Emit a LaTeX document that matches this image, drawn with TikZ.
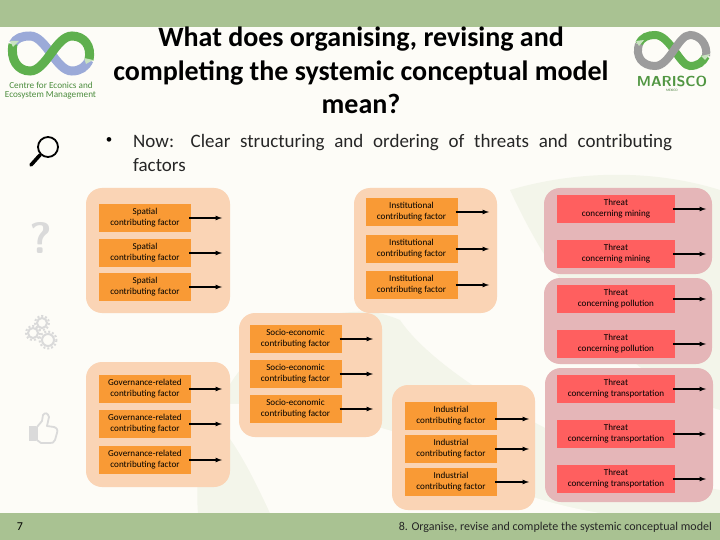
\documentclass[tikz,border=0pt]{standalone}
\usepackage{fontspec}
\setmainfont{Carlito}
\usetikzlibrary{positioning}
\definecolor{bandColor}{HTML}{A9C292}
\definecolor{paperColor}{HTML}{FDFCF7}
\definecolor{swooshColor}{HTML}{F3F5EA}
\definecolor{factorColor}{HTML}{F99A35}
\definecolor{factorGroupColor}{HTML}{FAD4B5}
\definecolor{threatColor}{HTML}{FF5F5F}
\definecolor{threatGroupColor}{HTML}{E5B6B8}
\definecolor{iconColor}{HTML}{DADADA}
\definecolor{logoGreen}{HTML}{5FB04E}
\definecolor{logoBlue}{HTML}{9BAAD8}
\definecolor{logoGrey}{HTML}{9C9C9C}
\definecolor{logoMark}{HTML}{C9E3C0}
\begin{document}
\begin{tikzpicture}[x=1pt,y=-1pt]

          \tikzstyle{factorNode} = [fill=factorColor, minimum width=92pt, minimum height=28pt, inner sep=0pt, align=center, font=\fontsize{9.1}{11}\selectfont];
          \tikzstyle{threatNode} = [fill=threatColor, minimum width=118pt, minimum height=28pt, inner sep=0pt, align=center, font=\fontsize{9.1}{11}\selectfont];
          \tikzstyle{factorGroup} = [fill=factorGroupColor, rounded corners=16pt];
          \tikzstyle{threatGroup} = [fill=threatGroupColor, rounded corners=16pt];
          \tikzstyle{factorEdge} = [line width=1.2pt, ->, >=latex, shorten <=-2pt];
          \tikzstyle{logoEdge} = [line width=9pt];

          \useasboundingbox (0,0) rectangle (720,540);

          % background
          \fill[paperColor] (0,0) rectangle (720,540);
          \fill[swooshColor] (198,513) .. controls (190,420) and (250,320) .. (340,313) .. controls (370,310) and (380,312) .. (400,320) .. controls (440,380) and (600,470) .. (720,490) -- (720,513) -- cycle;
          \fill[swooshColor] (510,190) .. controls (560,175) and (640,165) .. (720,190) -- (720,410) .. controls (650,390) and (570,320) .. (510,190) -- cycle;
          \fill[paperColor] (200,405) .. controls (260,400) and (330,410) .. (420,440) .. controls (460,470) and (520,500) .. (600,513) -- (270,513) .. controls (250,470) and (230,430) .. (200,405) -- cycle;
          \fill[bandColor] (0,0) rectangle (720,27);
          \fill[bandColor] (0,513) rectangle (720,540);

          % logos
          \draw[logoEdge, logoBlue] (13,44) .. controls (16,38) and (22,36) .. (30,36) .. controls (46,36) and (56,71) .. (72,71) .. controls (80,71) and (86,67) .. (89,60);
          \draw[logoEdge, logoGreen] (13,44) .. controls (10,60) and (18,71) .. (30,71) .. controls (46,71) and (56,36) .. (72,36) .. controls (84,36) and (92,46) .. (89,60);
          \fill[logoMark] (10,41) -- (19,41) -- (13,47) -- cycle;
          \fill[logoMark] (84,58) -- (93,60) -- (86,64) -- cycle;
          \node[text=logoGreen!80!black, font=\fontsize{9.2}{8}\selectfont, inner sep=0pt] (logoCentreA) at (51,85) {Centre for Econics and};
          \node[text=logoGreen!80!black, font=\fontsize{9.2}{8}\selectfont, inner sep=0pt] (logoCentreB) at (50.5,95) {Ecosystem Management};
          \draw[line width=8pt, logoGreen] (639,44) .. controls (642,37) and (648,35) .. (655,35) .. controls (670,35) and (680,66) .. (690,66) .. controls (698,66) and (703,62) .. (706,56);
          \draw[line width=8pt, logoGrey] (639,44) .. controls (635,56) and (642,66) .. (655,66) .. controls (670,66) and (678,35) .. (690,35) .. controls (700,35) and (708,45) .. (706,56);
          \fill[logoMark] (636,41) -- (644,40) -- (639,46) -- cycle;
          \fill[logoMark] (701,56) -- (710,54) -- (705,60) -- cycle;
          \node[text=logoGreen!85!black, font=\fontsize{14.5}{15}\bfseries\sffamily\selectfont, inner sep=0pt] (logoMarisco) at (672,81) {MARISCO};
          \node[text=logoGreen!70!black, font=\fontsize{3.5}{4}\selectfont, inner sep=0pt] (logoMexico) at (672,90) {MEXICO};

          % icons
          \draw[line width=1.8pt] (48,147) circle (10);
          \draw[line width=3.6pt, line cap=round] (40,155) -- (31,165);
          \node[text=iconColor, font=\fontsize{44}{44}\bfseries\sffamily\selectfont, inner sep=0pt] (iconAsk) at (41,238) {?};
          \draw[iconColor, line width=2pt] (42,323) circle (5);
          \draw[iconColor, line width=2pt, dotted] (42,323) circle (7);
          \draw[iconColor, line width=2pt] (33,333) circle (5);
          \draw[iconColor, line width=2pt, dotted] (33,333) circle (7);
          \draw[iconColor, line width=2pt] (48,340) circle (6);
          \draw[iconColor, line width=2pt, dotted] (48,340) circle (8.5);
          \draw[iconColor, line width=1.8pt, line join=round] (37,427) -- (42,421) -- (43,415) .. controls (45,412) and (48,413) .. (49,417) -- (47,426) -- (54,427) .. controls (57,428) and (58,430) .. (57,433) -- (55,440) .. controls (54,443) and (52,443) .. (50,443) -- (41,443) -- (37,440) -- cycle;
          \fill[iconColor] (29,426) rectangle (36,441);

          % title and text
          \node[align=center, font=\fontsize{28}{33.5}\bfseries\selectfont, inner sep=0pt] (title) at (361,70.5) {What does organising, revising and\\completing the systemic conceptual model\\mean?};
          \node[font=\fontsize{13}{13}\selectfont, inner sep=0pt] (bullet) at (109,141) {•};
          \node[anchor=north west, text width=539pt, align=justify, font=\fontsize{19}{24}\selectfont, inner sep=0pt, text=black!85] (bodyText) at (133,134.5) {Now: Clear structuring and ordering of threats and contributing\linebreak factors};
          \node[font=\fontsize{12}{14}\selectfont, inner sep=0pt] (pageNumber) at (20,527) {7};
          \node[anchor=east, font=\fontsize{12}{14}\selectfont, inner sep=0pt, text=black!85] (footerText) at (712,527) {8. Organise, revise and complete the systemic conceptual model};

          % groups
          \fill[factorGroup] (86,188) rectangle (230,313);
          \fill[factorGroup] (354,188) rectangle (497,313);
          \fill[factorGroup] (239,313) rectangle (382,437);
          \fill[factorGroup] (86,362) rectangle (230,487);
          \fill[factorGroup] (392,385) rectangle (535,510);
          \fill[threatGroup] (544,188) rectangle (712,274);
          \fill[threatGroup] (544,278) rectangle (712,364);
          \fill[threatGroup] (545,368) rectangle (713,502);

          % boxes
          \node[factorNode] (spatialA) at (145,218) {Spatial\\contributing factor};
          \node[factorNode] (spatialB) at (145,253) {Spatial\\contributing factor};
          \node[factorNode] (spatialC) at (145,287) {Spatial\\contributing factor};
          \node[factorNode] (instA) at (411.5,212) {Institutional\\contributing factor};
          \node[factorNode] (instB) at (411.5,249) {Institutional\\contributing factor};
          \node[factorNode] (instC) at (411.5,285) {Institutional\\contributing factor};
          \node[factorNode] (socioA) at (295.5,339) {Socio-economic\\contributing factor};
          \node[factorNode] (socioB) at (295.5,374) {Socio-economic\\contributing factor};
          \node[factorNode] (socioC) at (295.5,409) {Socio-economic\\contributing factor};
          \node[factorNode] (govA) at (145,389) {Governance-related\\contributing factor};
          \node[factorNode] (govB) at (145,424) {Governance-related\\contributing factor};
          \node[factorNode] (govC) at (145,460) {Governance-related\\contributing factor};
          \node[factorNode] (indA) at (451,416) {Industrial\\contributing factor};
          \node[factorNode] (indB) at (451,449) {Industrial\\contributing factor};
          \node[factorNode] (indC) at (451,482) {Industrial\\contributing factor};
          \node[threatNode] (threatA) at (616,209) {Threat\\concerning mining};
          \node[threatNode] (threatB) at (616,254) {Threat\\concerning mining};
          \node[threatNode] (threatC) at (616,299) {Threat\\concerning pollution};
          \node[threatNode] (threatD) at (616,344) {Threat\\concerning pollution};
          \node[threatNode] (threatE) at (616,389) {Threat\\concerning transportation};
          \node[threatNode] (threatF) at (616,434) {Threat\\concerning transportation};
          \node[threatNode] (threatG) at (616,479) {Threat\\concerning transportation};

          % arrow ends
          \coordinate (spatialAEnd) at (222,218);
          \coordinate (spatialBEnd) at (222,253);
          \coordinate (spatialCEnd) at (222,287);
          \coordinate (instAEnd) at (489,212);
          \coordinate (instBEnd) at (489,249);
          \coordinate (instCEnd) at (489,285);
          \coordinate (socioAEnd) at (373,339);
          \coordinate (socioBEnd) at (373,374);
          \coordinate (socioCEnd) at (373,409);
          \coordinate (govAEnd) at (222,389);
          \coordinate (govBEnd) at (222,424);
          \coordinate (govCEnd) at (222,460);
          \coordinate (indAEnd) at (529,419);
          \coordinate (indBEnd) at (529,449);
          \coordinate (indCEnd) at (529,482);
          \coordinate (threatAEnd) at (706,209);
          \coordinate (threatBEnd) at (706,254);
          \coordinate (threatCEnd) at (706,299);
          \coordinate (threatDEnd) at (706,344);
          \coordinate (threatEEnd) at (706,389);
          \coordinate (threatFEnd) at (706,434);
          \coordinate (threatGEnd) at (706,479);

          \draw[factorEdge] (spatialA) -- (spatialAEnd);
          \draw[factorEdge] (spatialB) -- (spatialBEnd);
          \draw[factorEdge] (spatialC) -- (spatialCEnd);
          \draw[factorEdge] (instA) -- (instAEnd);
          \draw[factorEdge] (instB) -- (instBEnd);
          \draw[factorEdge] (instC) -- (instCEnd);
          \draw[factorEdge] (socioA) -- (socioAEnd);
          \draw[factorEdge] (socioB) -- (socioBEnd);
          \draw[factorEdge] (socioC) -- (socioCEnd);
          \draw[factorEdge] (govA) -- (govAEnd);
          \draw[factorEdge] (govB) -- (govBEnd);
          \draw[factorEdge] (govC) -- (govCEnd);
          \draw[factorEdge] (indA.east |- indAEnd) -- (indAEnd);
          \draw[factorEdge] (indB) -- (indBEnd);
          \draw[factorEdge] (indC) -- (indCEnd);
          \draw[factorEdge] (threatA) -- (threatAEnd);
          \draw[factorEdge] (threatB) -- (threatBEnd);
          \draw[factorEdge] (threatC) -- (threatCEnd);
          \draw[factorEdge] (threatD) -- (threatDEnd);
          \draw[factorEdge] (threatE) -- (threatEEnd);
          \draw[factorEdge] (threatF) -- (threatFEnd);
          \draw[factorEdge] (threatG) -- (threatGEnd);
        \end{tikzpicture}
\end{document}
